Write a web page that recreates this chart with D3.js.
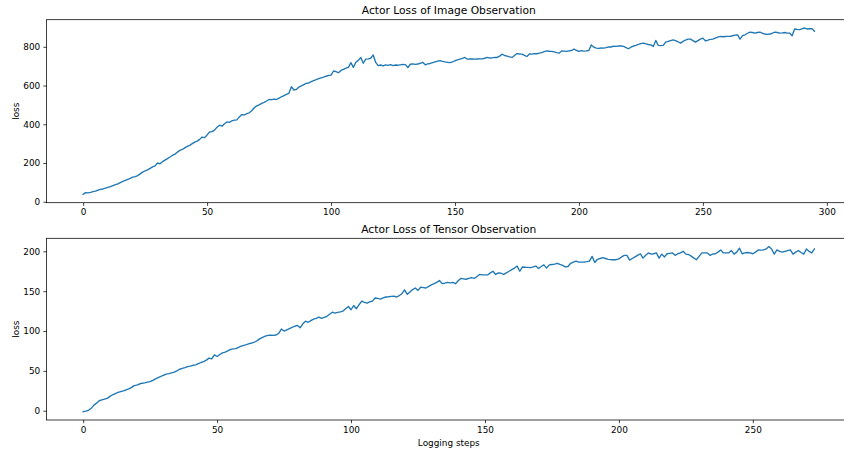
<!DOCTYPE html>
<html>
<head>
<meta charset="utf-8">
<script src="https://cdn.jsdelivr.net/npm/d3@7/dist/d3.min.js"></script>
<style>
  html, body { margin: 0; padding: 0; background: #fff; }
  svg { display: block; overflow: hidden; }
  text { font-family: "DejaVu Sans", sans-serif; fill: #000; }
</style>
</head>
<body>
<svg id="chart" width="844" height="452"></svg>
<script>
// ---- Data ----
const imageTitle = "Actor Loss of Image Observation";
const tensorTitle = "Actor Loss of Tensor Observation";
const yLabel = "loss";
const xLabel = "Logging steps";

const imageLoss = [
  38, 47, 46, 48, 52, 55, 60, 64, 66, 70,
  74, 78, 83, 88, 92, 99, 105, 110, 116, 121,
  127, 130, 135, 144, 153, 160, 165, 172, 180, 185,
  200, 196, 207, 215, 223, 231, 239, 246, 256, 265,
  270, 278, 286, 291, 300, 308, 313, 322, 334, 331,
  345, 360, 362, 370, 385, 395, 390, 403, 412, 410,
  418, 421, 423, 438, 450, 448, 455, 459, 470, 485,
  495, 500, 508, 513, 520, 528, 527, 530, 528, 535,
  542, 548, 554, 560, 594, 577, 580, 592, 598, 605,
  611, 613, 620, 625, 630, 636, 640, 643, 648, 652,
  654, 675, 672, 666, 678, 684, 690, 694, 718, 694,
  720, 730, 745, 715, 736, 738, 741, 758, 720, 703,
  706, 702, 707, 704, 708, 703, 706, 705, 707, 709,
  708, 693, 710, 712, 709, 711, 715, 720, 707, 712,
  714, 718, 722, 726, 729, 725, 722, 720, 718, 722,
  728, 732, 736, 740, 745, 736, 738, 737, 736, 737,
  738, 738, 741, 745, 742, 743, 745, 745, 752, 762,
  755, 752, 748, 745, 755, 765, 763, 762, 756, 750,
  763, 762, 765, 764, 767, 770, 775, 779, 777, 776,
  774, 770, 767, 779, 778, 776, 779, 781, 788, 782,
  776, 780, 778, 779, 781, 810, 798, 793, 792, 794,
  793, 796, 800, 799, 803, 802, 805, 804, 802, 796,
  790, 798, 804, 807, 812, 816, 819, 815, 812, 810,
  802, 833, 807, 806, 807, 824, 828, 832, 836, 832,
  826, 819, 828, 835, 840, 840, 832, 824, 832, 840,
  845, 831, 834, 838, 840, 845, 850, 854, 852, 853,
  854, 854, 857, 860, 862, 840, 858, 862, 870, 876,
  874, 871, 874, 876, 870, 866, 864, 866, 870, 876,
  874, 871, 872, 874, 871, 871, 857, 892, 890, 889,
  893, 897, 892, 893, 894, 880
];

const tensorLoss = [
  -1.3, -0.5, 0.5, 3, 7, 9.5, 12.5, 13.5, 14.5, 15.5,
  18, 20, 21.5, 23, 24, 25, 26, 27.3, 29, 31.5,
  32, 33.5, 34.5, 35, 35.8, 36.5, 38, 40, 41.6, 43,
  44.5, 45.8, 46.5, 47.5, 48.3, 50, 52, 53, 54, 55.3,
  56, 57, 57.5, 59, 60.5, 61.6, 63.5, 66, 65, 70,
  68, 70.5, 72.5, 73.5, 75, 77, 77.5, 78, 79.5, 81,
  82, 83, 84.2, 85, 86.2, 88, 90.4, 92, 93.5, 94.6,
  94.8, 94.5, 95, 97, 102.5, 100, 101.5, 103, 104.5, 106,
  107, 104, 109, 112.3, 111, 113, 115, 116, 117.5, 116,
  117, 118.5, 121, 123.6, 122.5, 123.5, 124, 125, 128, 130.8,
  126.7, 132, 128, 133, 137.5, 136, 135, 136.5, 137.5, 141.4,
  141, 140, 141.5, 142.7, 143, 143.5, 143.8, 142.7, 144.5, 146.8,
  151.7, 146, 149, 152, 154, 151, 155, 154.5, 154, 156,
  158, 159.4, 161, 163.5, 159.4, 160, 161, 160.5, 161, 159.4,
  163, 166, 165.5, 165, 166, 167, 166, 168.5, 171, 170.5,
  170.4, 170.4, 173, 175, 171, 173, 172.5, 171, 173, 175,
  177, 179, 181.5, 175, 180.4, 180, 179.8, 179.6, 180.5, 181.5,
  178.5, 181, 183, 179, 183, 183.5, 184, 185, 183.5, 182.3,
  180.4, 181, 185, 186.5, 187.6, 186.5, 186.5, 186.5, 187, 187.7,
  193.7, 186, 190, 191, 192, 191, 190, 189.5, 189.5, 189.5,
  190.5, 193, 195, 195, 189, 191, 193, 195, 197, 191.5,
  195, 198, 196.5, 197, 198, 191.5, 196.5, 193, 197, 197.5,
  198, 195, 197, 198, 200, 196.5, 196, 194, 191.5, 189.5,
  194, 198, 198, 198, 195, 196.5, 197, 199, 201.8, 198,
  198, 198, 201, 196.5, 199, 204, 197, 198, 198.5, 198,
  197, 199, 201.8, 201.5, 201.8, 203, 206, 203, 196.5, 201.8,
  200, 199, 200, 201, 201.8, 196.5, 199, 201, 198.5, 196.5,
  203, 200, 198, 203
];

const imageXTicks = [0, 50, 100, 150, 200, 250, 300];
const imageYTicks = [0, 200, 400, 600, 800];
const tensorXTicks = [0, 50, 100, 150, 200, 250];
const tensorYTicks = [0, 50, 100, 150, 200];

// ---- Drawing ----
const svg = d3.select("#chart");
const FS_TICK = 8.9, FS_TITLE = 10.7;
const LINE_COLOR = "#1f77b4";

function padExtent(vals) {
  const [a, b] = d3.extent(vals);
  const m = (b - a) * 0.05;
  return [a - m, b + m];
}

function panel(values, box, xTicks, yTicks, title, showXLabel) {
  const idx = values.map((_, i) => i);
  const x = d3.scaleLinear().domain(padExtent(idx)).range([box.left, box.right]);
  const y = d3.scaleLinear().domain(padExtent(values)).range([box.bottom, box.top]);
  const g = svg.append("g");

  // line
  const line = d3.line().x((d, i) => x(i)).y(d => y(d));
  g.append("path")
    .datum(values)
    .attr("fill", "none")
    .attr("stroke", LINE_COLOR)
    .attr("stroke-width", 1.35)
    .attr("stroke-linejoin", "round")
    .attr("stroke-linecap", "square")
    .attr("d", line);

  // axes
  const xa = g.append("g")
    .attr("transform", `translate(0,${box.bottom})`)
    .call(d3.axisBottom(x).tickValues(xTicks).tickFormat(d3.format("d"))
      .tickSize(3.2).tickPadding(3.0).tickSizeOuter(0));
  const ya = g.append("g")
    .attr("transform", `translate(${box.left},0)`)
    .call(d3.axisLeft(y).tickValues(yTicks).tickFormat(d3.format("d"))
      .tickSize(3.2).tickPadding(3.2).tickSizeOuter(0));
  [xa, ya].forEach(a => {
    a.select(".domain").remove();
    a.selectAll("line").attr("stroke", "#000").attr("stroke-width", 0.75);
    a.selectAll("text").attr("font-size", FS_TICK).attr("font-family", "DejaVu Sans").attr("fill", "#000");
  });

  // spines
  g.append("rect")
    .attr("x", box.left).attr("y", box.top)
    .attr("width", box.right - box.left).attr("height", box.bottom - box.top)
    .attr("fill", "none").attr("stroke", "#000").attr("stroke-width", 0.75);

  // title
  g.append("text")
    .attr("x", (box.left + box.right) / 2)
    .attr("y", box.top - 5.3)
    .attr("text-anchor", "middle")
    .attr("font-size", FS_TITLE)
    .text(title);

  // y label
  const cy = (box.top + box.bottom) / 2;
  g.append("text")
    .attr("transform", `translate(18.6,${cy}) rotate(-90)`)
    .attr("text-anchor", "middle")
    .attr("font-size", FS_TICK)
    .text(yLabel);

  if (showXLabel) {
    g.append("text")
      .attr("x", (box.left + box.right) / 2)
      .attr("y", box.bottom + 25.5)
      .attr("text-anchor", "middle")
      .attr("font-size", FS_TICK)
      .text(xLabel);
  }
}

panel(imageLoss, {left: 46.6, right: 851, top: 19.7, bottom: 202.7},
      imageXTicks, imageYTicks, imageTitle, false);
panel(tensorLoss, {left: 46.6, right: 851, top: 238.3, bottom: 420},
      tensorXTicks, tensorYTicks, tensorTitle, true);
</script>
</body>
</html>
